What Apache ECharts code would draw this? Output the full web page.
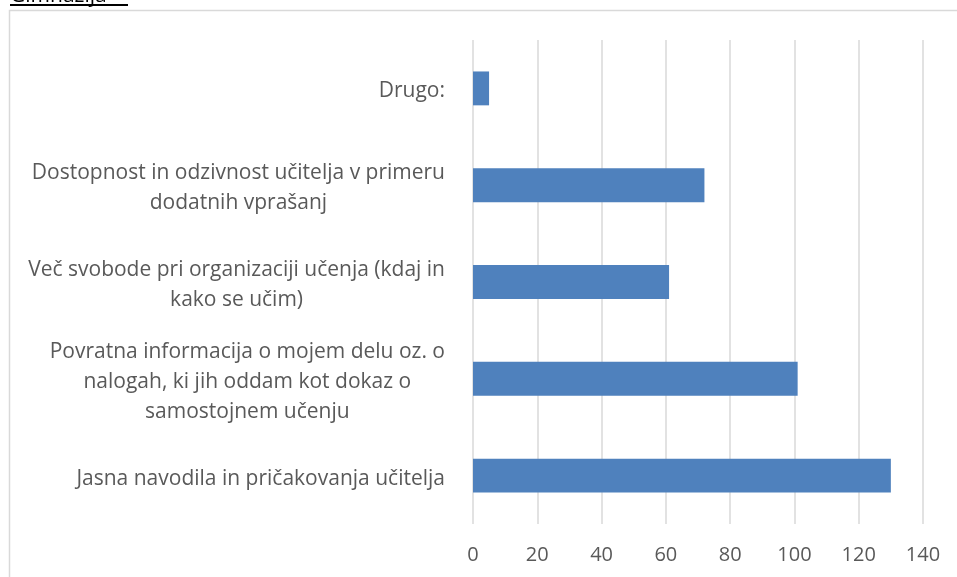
<!DOCTYPE html>
<html><head><meta charset="utf-8">
<script src="https://cdn.jsdelivr.net/npm/echarts@6/dist/echarts.min.js"></script>
<style>html,body{margin:0;padding:0;background:#fff}#c{width:957px;height:577px}</style>
</head><body><div id="c"></div>
<script>
const titleText = 'Gimnazija';
const categories = [
  'Drugo:',
  'Dostopnost in odzivnost učitelja v primeru\ndodatnih vprašanj',
  'Več svobode pri organizaciji učenja (kdaj in\nkako se učim)',
  'Povratna informacija o mojem delu oz. o\nnalogah, ki jih oddam kot dokaz o\nsamostojnem učenju',
  'Jasna navodila in pričakovanja učitelja'
];
const values = [5, 72, 61, 101, 130];
const xTicks = [0, 20, 40, 60, 80, 100, 120, 140];

const FONT = 'Open Sans';
const LABEL_SIZE = 21;

const chart = echarts.init(document.getElementById('c'), null, {renderer:'canvas'});
chart.setOption({
  animation:false,
  textStyle:{fontFamily:FONT},
  graphic:[
    {type:'rect', shape:{x:9.5,y:10.5,width:1000,height:1000}, style:{fill:'none', stroke:'#d9d9d9', lineWidth:1.5}},
    {type:'text', left:10, top:-14, style:{text:titleText, font:'21px "'+FONT+'"', fill:'#000'}},
    {type:'rect', shape:{x:10,y:4,width:118,height:2}, style:{fill:'#000'}}
  ],
  grid:{left:473, right:34, top:40, bottom:53, containLabel:false},
  xAxis:{
    type:'value', min:0, max:140, interval:20,
    axisLine:{show:false}, axisTick:{show:false},
    splitLine:{lineStyle:{color:'#d9d9d9', width:1.5}},
    axisLabel:{color:'#595959', fontSize:20, margin:21, fontFamily:FONT,
      formatter:v => xTicks.includes(v) ? String(v) : ''}
  },
  yAxis:{
    type:'category', data:categories, inverse:true,
    axisLine:{show:false}, axisTick:{show:false},
    axisLabel:{
      margin:28, color:'#595959', fontFamily:FONT, fontSize:LABEL_SIZE, lineHeight:30,
      padding:[6,0,0,0],
      formatter:v => v.split('\n').map(l => '{c|' + l + '}').join('\n'),
      rich:{c:{align:'center', fontSize:LABEL_SIZE, lineHeight:30, color:'#595959', fontFamily:FONT}}
    }
  },
  series:[{
    type:'bar', data:values, barWidth:'35%',
    itemStyle:{color:'#4f81bd'}
  }]
});
</script></body></html>
